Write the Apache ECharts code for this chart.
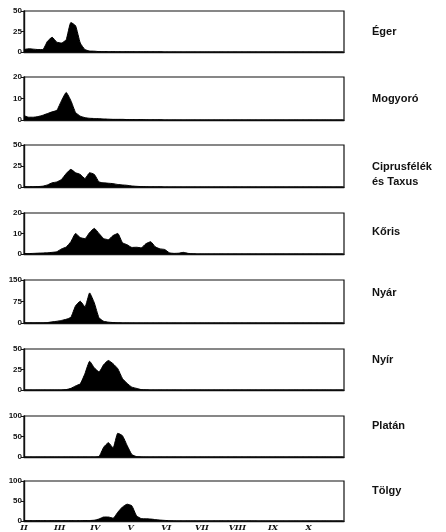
<!DOCTYPE html>
<html><head><meta charset="utf-8">
<script src="https://cdn.jsdelivr.net/npm/echarts@6/dist/echarts.min.js"></script>
<style>html,body{margin:0;padding:0;background:#fff}#c{width:446px;height:532px}</style>
</head><body><div id="c"></div>
<script>
// day index from 1 Feb (step 4 days)
const days = [0,4,8,12,16,20,24,28,32,36,40,44,48,52,56,60,64,68,72,76,80,84,88,92,96,100,104,108,112,116,120,124,128,132,136,140,144,148,152,156,160,164,168,172,176,180,184,188,192,196,200,204,208,212,216,220,224,228,232,236,240,244,248,252,256,260,264,268,272];
const monthLabels = ['II','III','IV','V','VI','VII','VIII','IX','X'];
const taxa = ['Éger','Mogyoró','Ciprusfélék\nés Taxus','Kőris','Nyár','Nyír','Platán','Tölgy'];
const yMax = [50,20,50,20,150,50,100,100];
const yStep = [25,10,25,10,75,25,50,50];

const eger = [3,4,3.5,3,3,13,18,12,11,15, 36,32,11,3,1.2,1,0.5,0.5,0.4,0.4, 0.3,0.3,0.3,0.3,0.3,0.2,0.2,0.2,0.2,0.2, 0,0,0,0,0,0,0,0,0,0, 0,0,0,0,0,0,0,0,0,0, 0,0,0,0,0,0,0,0,0,0, 0,0,0,0,0,0,0,0,0];
const mogyoro = [2,1.3,1.3,1.6,2.2,3,3.8,4.5,9,12.8, 9,3.5,1.8,1.1,0.8,0.7,0.6,0.5,0.4,0.3, 0.3,0.3,0.2,0.2,0.2,0.2,0.1,0.1,0.1,0.1, 0,0,0,0,0,0,0,0,0,0, 0,0,0,0,0,0,0,0,0,0, 0,0,0,0,0,0,0,0,0,0, 0,0,0,0,0,0,0,0,0];
const ciprus = [0.3,0.3,0.4,0.5,1,2.5,5,6,9,16, 21,17,15,10,17,15,6,5,4.5,4, 3,2.5,2,1.2,0.8,0.5,0.3,0.2,0.2,0.2, 0,0,0,0,0,0,0,0,0,0, 0,0,0,0,0,0,0,0,0,0, 0,0,0,0,0,0,0,0,0,0, 0,0,0,0,0,0,0,0,0];
const koris = [0.2,0.2,0.3,0.4,0.5,0.6,0.8,1.1,2.5,3.4, 6,10,8,7.5,10.5,12.5,10,7.5,7,9, 10,5.5,4.5,3.2,3.3,3,5,6,3.5,2.5, 2.2,0.6,0.3,0.4,0.8,0.3,0.1,0,0,0, 0,0,0,0,0,0,0,0,0,0, 0,0,0,0,0,0,0,0,0,0, 0,0,0,0,0,0,0,0,0];
const nyar = [0.5,0.5,0.5,0.5,0.5,1.5,4,6,9,13, 20,60,76,56,105,70,18,6,3,1.5, 0.8,0.3,0.3,0.2,0.2,0,0,0,0,0, 0,0,0,0,0,0,0,0,0,0, 0,0,0,0,0,0,0,0,0,0, 0,0,0,0,0,0,0,0,0,0, 0,0,0,0,0,0,0,0,0];
const nyir = [0,0,0,0,0,0,0,0,0,0.5, 2,5,7.5,20,35,27,22,31,36,32, 26,14,8,3.5,2,0.5,0.2,0,0,0, 0,0,0,0,0,0,0,0,0,0, 0,0,0,0,0,0,0,0,0,0, 0,0,0,0,0,0,0,0,0,0, 0,0,0,0,0,0,0,0,0];
const platan = [0,0,0,0,0,0,0,0,0,0, 0,0,0,0,0,0,1,24,35,22, 58,52,28,6,1,0.3,0,0,0,0, 0,0,0,0,0,0,0,0,0,0, 0,0,0,0,0,0,0,0,0,0, 0,0,0,0,0,0,0,0,0,0, 0,0,0,0,0,0,0,0,0];
const tolgy = [0.8,0.8,0.8,0.8,0.8,0.8,0.8,0.8,0.8,0.8, 0.8,0.8,0.8,1,1.2,2,5,10,10,7, 22,35,42,38,13,6,5.5,5,3.5,2.3, 1.5,0.8,0.3,0.3,0.3,0.3,0.3,0.3,0.3,0.3, 0.3,0.3,0.3,0.3,0.3,0.3,0.3,0.3,0.3,0.3, 0,0,0,0,0,0,0,0,0,0, 0,0,0,0,0,0,0,0,0];
const values = [eger,mogyoro,ciprus,koris,nyar,nyir,platan,tolgy];

const tops = [11,77,145,213,280,349,416,481];
const heights = [41,43,42,41,43,41,41,42];
const labelY = [32,99,174,232,293,360,426,491];
const FONT = '"Liberation Sans", Arial, sans-serif';
const monthStep = 242.7/8;

const grid=[],xAxis=[],yAxis=[],series=[],graphic=[];
values.forEach((vals,i)=>{
  grid.push({left:24,right:102,top:tops[i],height:heights[i],show:true,borderColor:'#111',borderWidth:1.2,backgroundColor:'transparent'});
  const last = i===values.length-1;
  xAxis.push({type:'value',gridIndex:i,min:0,max:273,interval:monthStep,
    axisLine:{show:true,lineStyle:{color:'#111',width:1.4}},
    axisTick:{show:false},splitLine:{show:false},
    axisLabel:{show:last,margin:3,fontSize:8,fontWeight:'bold',fontStyle:'italic',fontFamily:'"DejaVu Serif", serif',color:'#111',
      formatter:v=>{const k=Math.round(v/monthStep);return monthLabels[k]||'';}}});
  yAxis.push({type:'value',gridIndex:i,min:0,max:yMax[i],interval:yStep[i],
    axisLine:{show:true,lineStyle:{color:'#111',width:1.4}},
    axisTick:{show:true,length:3,lineStyle:{color:'#111'}},splitLine:{show:false},
    axisLabel:{margin:2,fontSize:8,fontWeight:'bold',fontFamily:FONT,color:'#111'}});
  series.push({type:'line',xAxisIndex:i,yAxisIndex:i,symbol:'none',smooth:0.15,
    lineStyle:{color:'#000',width:1},areaStyle:{color:'#000',opacity:1},
    data:days.map((d,j)=>[d,vals[j]])});
  graphic.push({type:'text',x:372,y:labelY[i],style:{text:taxa[i],font:'bold 11px '+FONT,fill:'#111',verticalAlign:'middle',lineHeight:15}});
});

const chart = echarts.init(document.getElementById('c'),null,{renderer:'canvas'});
chart.setOption({animation:false,backgroundColor:'#fff',grid,xAxis,yAxis,series,graphic});
</script></body></html>
